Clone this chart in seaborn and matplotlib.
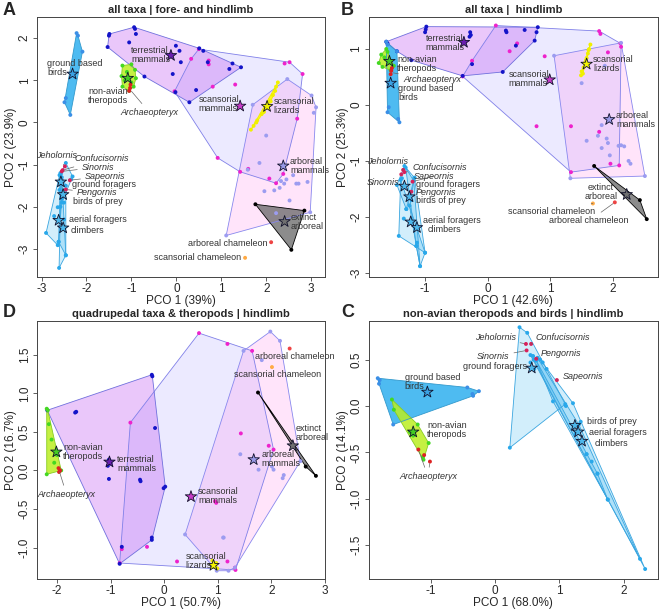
import matplotlib
matplotlib.use("Agg")
import matplotlib.pyplot as plt
import pandas as pd
import seaborn as sns

sns.set_theme(style="ticks")
plt.rcParams["font.family"] = ["Liberation Sans", "DejaVu Sans"]
plt.rcParams["axes.unicode_minus"] = False

# ---------------------------------------------------------------- data
BASAL_BIRDS = ["Jeholornis", "Confucisornis", "Sinornis", "Sapeornis", "Pengornis"]

# panel A: all taxa | fore- and hindlimb
A_POINTS = {
    "scansorial mammals": (
        [-0.04, 0.5, 0.33, 0.72, 0.72, 0.81, 1.31, 2.41, 2.52, 2.81, 2.69, 2.38, 2.22, 2.07, 1.6, 1.42, 0.92],
        [0.74, 1.74, 1.51, 1.47, 1.38, 0.85, 0.9, 1.4, 1.43, 1.15, 0.09, -1.22, -1.44, -1.33, -1.1, -1.17, -0.84],
    ),
    "arboreal mammals": (
        [1.7, 2.47, 3.01, 3.11, 3.06, 2.0, 1.85, 1.59, 2.33, 2.4, 2.45, 2.67, 2.92, 2.18, 1.96, 2.52, 2.22, 2.98, 1.11, 2.3, 2.6, 2.72],
        [0.42, 1.03, 0.64, 0.36, 0.23, -0.31, -0.96, -1.12, -1.39, -1.45, -1.35, -1.45, -1.41, -1.61, -1.63, -1.85, -2.15, -2.13, -2.68, -1.55, -1.25, -1.45],
    ),
    "terrestrial mammals": (
        [-1.49, -1.5, -1.53, -0.94, -0.92, -0.9, -1.05, -0.71, -0.01, 0.07, 0.1, -0.08, 0.51, 0.6, 0.7, 1.18, 1.25, 1.44, 0.29, 0.44, -0.02],
        [2.1, 2.06, 1.79, 2.26, 2.22, 2.1, 1.9, 1.09, 1.82, 1.7, 1.43, 1.15, 1.76, 1.7, 1.43, 1.27, 1.4, 1.31, 0.48, 0.77, 0.72],
    ),
    "ground based birds": ([-2.22, -2.19, -2.09, -2.49, -2.46, -2.36], [2.12, 2.06, 1.68, 0.48, 0.58, 0.18]),
    "ground foragers": ([-2.46, -2.57, -2.31, -2.34, -2.6, -2.55], [-0.96, -1.22, -1.28, -1.35, -1.6, -1.9]),
    "birds of prey": ([-2.58, -2.46, -2.5, -2.62, -2.46], [-1.2, -1.5, -1.9, -2.83, -3.15]),
    "aerial foragers": ([-2.64, -2.72, -2.9, -2.62, -2.64, -2.55, -2.6], [-2.01, -2.22, -2.62, -2.83, -2.91, -1.8, -1.25]),
    "climbers": ([-2.55, -2.61, -2.46, -2.5, -2.58], [-1.3, -3.45, -3.15, -2.3, -2.0]),
    "non-avian theropods": (
        [-1.2, -1.0, -0.92, -0.9, -0.95, -1.05, -1.2, -1.22, -1.1, -1.0, -1.15],
        [1.35, 1.38, 1.25, 1.05, 0.85, 0.75, 0.85, 1.1, 1.2, 0.95, 1.0],
    ),
    "Archaeopteryx": ([-1.03, -1.05, -1.02], [0.82, 0.75, 0.9]),
    "scansorial lizards": (
        [2.26, 2.22, 2.15, 2.08, 2.0, 1.9, 1.8, 1.72, 1.66, 1.78, 1.95, 2.1, 2.2],
        [0.95, 0.85, 0.65, 0.5, 0.35, 0.2, 0.05, -0.08, -0.17, 0.0, 0.25, 0.5, 0.75],
    ),
    "extinct arboreal": ([1.76, 2.85, 2.56], [-1.94, -2.09, -3.02]),
    "basal birds": ([-2.48, -2.53, -2.55, -2.37, -2.46], [-1.04, -1.13, -1.16, -1.37, -1.59]),
    "arboreal chameleon": ([2.11], [-2.84]),
    "scansorial chameleon": ([1.53], [-3.21]),
}
A_STARS = {
    "ground based birds": (-2.31, 1.15), "non-avian theropods": (-1.08, 1.05),
    "terrestrial mammals": (-0.12, 1.59), "scansorial mammals": (1.42, 0.39),
    "scansorial lizards": (2.02, 0.38), "arboreal mammals": (2.38, -1.03),
    "extinct arboreal": (2.41, -2.35), "ground foragers": (-2.57, -1.41),
    "birds of prey": (-2.52, -1.71), "aerial foragers": (-2.62, -2.32), "climbers": (-2.52, -2.5),
}

# panel B: all taxa | hindlimb
B_POINTS = {
    "scansorial mammals": (
        [0.13, 0.47, 0.35, -0.25, -0.4, 0.91, 1.78, 1.8, 2.12, 2.13, 1.92, 0.78, 1.33, 1.78, 1.33, 1.96, 2.1],
        [1.42, 1.1, 0.96, 0.79, 0.51, 0.87, 1.32, 1.27, 1.1, 1.04, 0.94, -0.38, -0.38, -0.48, -1.2, -1.05, -1.08],
    ),
    "arboreal mammals": (
        [1.06, 1.5, 1.87, 1.82, 1.76, 1.58, 1.82, 1.9, 1.92, 2.09, 2.13, 2.18, 2.25, 2.28, 2.51, 1.32, 2.13, 1.95],
        [0.88, 0.39, 0.7, -0.36, -0.55, -0.64, -0.77, -0.6, -0.68, -0.73, -0.72, -0.74, -1.0, -1.05, -1.27, -1.31, 1.11, -0.9],
    ),
    "terrestrial mammals": (
        [-1.62, -1.6, -0.98, -0.99, -1.0, -0.28, -0.27, -0.29, 0.29, 0.3, 0.45, 0.59, 0.8, 0.78, 0.75, 0.24, -0.25, -1.22, -1.45, -0.4],
        [1.13, 1.1, 1.4, 1.35, 1.3, 1.3, 1.25, 1.22, 1.33, 1.3, 1.06, 1.34, 1.39, 1.3, 1.15, 0.59, 0.73, 0.8, 0.96, 0.52],
    ),
    "ground based birds": ([-1.62, -1.6, -1.45, -1.58, -1.6, -1.41, -1.43], [1.13, 1.08, 0.96, -0.04, -0.13, -0.31, -0.25]),
    "ground foragers": ([-1.33, -1.37, -1.45, -1.17, -1.3, -1.25], [-1.09, -1.31, -1.43, -1.3, -1.86, -1.6]),
    "birds of prey": ([-1.31, -1.18, -1.22, -1.08, -1.14], [-1.12, -1.36, -1.7, -2.88, -2.52]),
    "aerial foragers": ([-1.34, -1.42, -1.13, -1.0, -1.3, -1.39], [-2.03, -2.34, -2.46, -2.64, -1.86, -1.34]),
    "climbers": ([-1.17, -1.14, -1.0, -1.08, -1.25], [-1.3, -2.52, -2.64, -2.88, -1.8]),
    "non-avian theropods": (
        [-1.74, -1.62, -1.6, -1.5, -1.55, -1.68, -1.65, -1.7],
        [0.75, 1.0, 0.95, 0.7, 0.62, 0.68, 0.85, 0.9],
    ),
    "Archaeopteryx": ([-1.54, -1.55, -1.53], [0.61, 0.55, 0.66]),
    "scansorial lizards": (
        [1.64, 1.62, 1.6, 1.58, 1.55, 1.53, 1.5, 1.49, 1.52, 1.57, 1.61],
        [1.08, 1.0, 0.92, 0.84, 0.75, 0.67, 0.6, 0.53, 0.56, 0.8, 0.98],
    ),
    "extinct arboreal": ([1.7, 2.43, 2.54], [-1.09, -1.7, -2.04]),
    "basal birds": ([-1.35, -1.33, -1.38, -1.2, -1.22], [-1.16, -1.2, -1.24, -1.37, -1.55]),
    "arboreal chameleon": ([2.03], [-1.74]),
    "scansorial chameleon": ([1.68], [-1.76]),
}
B_STARS = {
    "ground based birds": (-1.55, 0.39), "non-avian theropods": (-1.57, 0.78),
    "terrestrial mammals": (-0.38, 1.12), "scansorial mammals": (0.99, 0.45),
    "scansorial lizards": (1.58, 0.73), "arboreal mammals": (1.94, -0.26),
    "extinct arboreal": (2.22, -1.6), "ground foragers": (-1.33, -1.45),
    "birds of prey": (-1.25, -1.64), "aerial foragers": (-1.23, -2.09), "climbers": (-1.13, -2.19),
}

# panel D: quadrupedal taxa & theropods | hindlimb
D_POINTS = {
    "scansorial mammals": (
        [0.65, 1.18, 1.64, -0.63, 1.43, 1.95, 2.04, 0.95, 0.97, -0.32, -0.79, -0.83, 0.24, 1.18, 1.32, 1.33],
        [1.78, 1.64, 1.55, 0.62, 0.48, 0.32, 0.27, -0.4, -0.42, -0.99, -1.02, -1.2, -1.18, -1.18, -1.26, -1.29],
    ),
    "arboreal mammals": (
        [1.98, 2.16, 1.48, 1.82, 1.42, 0.39, 1.1, 0.98, 1.2, 1.76, 2.04, 2.21, 2.23, 2.01, 2.54, 1.32, 1.11],
        [1.8, 1.68, 1.55, 1.43, 0.21, -0.83, -0.87, -1.3, -1.3, 0.01, 0.01, -0.1, -0.06, 0.05, 0.12, -1.26, -0.87],
    ),
    "terrestrial mammals": (
        [-2.18, -1.66, -1.64, -0.23, -0.22, -0.17, -1.01, -1.0, -1.03, -0.45, -0.44, -0.01, 0.02, -0.23, -0.23, -0.79, -0.83, -1.03, -1.05],
        [0.78, 0.75, 0.76, 1.24, 1.22, 0.55, 0.12, 0.09, -0.11, -0.12, -0.14, -0.23, -0.21, -0.87, -0.9, -0.99, -1.21, 0.14, 0.06],
    ),
    "non-avian theropods": (
        [-2.19, -2.17, -2.19, -2.0, -2.05, -1.92, -2.1, -2.15],
        [0.8, 0.78, -0.05, 0.2, 0.1, 0.0, 0.4, 0.6],
    ),
    "Archaeopteryx": ([-1.97, -1.94, -1.96], [0.03, 0.0, -0.02]),
    "scansorial lizards": ([0.9, 0.95, 0.99, 0.93, 0.97], [-1.17, -1.22, -1.27, -1.25, -1.2]),
    "extinct arboreal": ([1.75, 2.64, 2.83], [1.01, 0.05, -0.07]),
    "arboreal chameleon": ([2.34], [1.58]),
    "scansorial chameleon": ([2.01], [1.34]),
}
D_STARS = {
    "non-avian theropods": (-2.01, 0.24), "terrestrial mammals": (-1.02, 0.11),
    "scansorial mammals": (0.5, -0.34), "scansorial lizards": (0.92, -1.23),
    "arboreal mammals": (1.67, 0.14), "extinct arboreal": (2.4, 0.32),
}

# panel C: non-avian theropods and birds | hindlimb
C_POINTS = {
    "ground based birds": ([-1.82, -1.79, -1.8, -0.43, -0.25, -0.34, -1.58, -0.35], [0.3, 0.28, 0.24, 0.2, 0.16, 0.11, -0.2, 0.13]),
    "ground foragers": ([0.38, 0.5, 0.59, 0.74, 0.8, 1.09, 0.23, 0.55, 0.61], [0.85, 0.79, 0.54, 0.47, 0.4, 0.02, -0.45, 0.47, 0.4]),
    "birds of prey": ([0.55, 0.7, 1.21, 1.33, 1.42, 2.33, 1.5], [0.55, 0.5, 0.03, -0.17, -0.52, -1.76, -0.6]),
    "aerial foragers": ([0.6, 0.66, 1.1, 1.3, 1.59, 1.75, 2.25], [0.5, 0.52, 0.0, -0.2, -0.73, -1.01, -1.65]),
    "climbers": ([0.64, 0.9, 1.25, 1.42, 1.59, 1.75], [0.49, 0.05, -0.3, -0.52, -0.73, -1.01]),
    "non-avian theropods": (
        [-1.6, -1.57, -1.32, -1.27, -1.03, -1.12, -1.11, -1.2],
        [0.07, -0.04, -0.28, -0.32, -0.4, -0.55, -0.58, -0.2],
    ),
    "Archaeopteryx": ([-1.19, -1.1, -1.01], [-0.47, -0.53, -0.6]),
    "basal birds": ([0.48, 0.56, 0.49, 0.96, 0.64], [0.67, 0.67, 0.6, 0.28, 0.51]),
}
C_STARS = {
    "ground based birds": (-1.05, 0.15), "non-avian theropods": (-1.27, -0.28),
    "ground foragers": (0.57, 0.41), "birds of prey": (1.24, -0.21),
    "aerial foragers": (1.29, -0.28), "climbers": (1.35, -0.38),
}

# ---------------------------------------------------------------- text placement
A_LABELS = [
    ("ground based\nbirds", -2.87, 1.29, "left"), ("non-avian\ntheropods", -1.96, 0.64, "left"),
    ("terrestrial\nmammals", -1.01, 1.59, "left"), ("scansorial\nmammals", 0.5, 0.44, "left"),
    ("scansorial\nlizards", 2.16, 0.38, "left"), ("arboreal\nmammals", 2.53, -1.03, "left"),
    ("extinct\narboreal", 2.55, -2.36, "left"), ("ground foragers", -2.32, -1.48, "left"),
    ("birds of prey", -2.3, -1.87, "left"), ("aerial foragers", -2.4, -2.3, "left"),
    ("climbers", -2.35, -2.56, "left"), ("arboreal chameleon", 2.03, -2.87, "right"),
    ("scansorial chameleon", 1.44, -3.21, "right"),
]
A_BASAL_TEXT = [(-2.66, -0.78), (-1.65, -0.86), (-1.74, -1.06), (-1.58, -1.27), (-1.76, -1.67)]
A_CALLOUTS = [("Archaeopteryx", -0.6, 0.24, [(-1.03, 0.78)], True)]

B_LABELS = [
    ("terrestrial\nmammals", -0.99, 1.1, "left"), ("non-avian\ntheropods", -1.45, 0.73, "left"),
    ("ground based\nbirds", -1.43, 0.21, "left"), ("scansorial\nmammals", 0.33, 0.46, "left"),
    ("scansorial\nlizards", 1.68, 0.73, "left"), ("arboreal\nmammals", 2.05, -0.27, "left"),
    ("extinct\narboreal", 1.81, -1.56, "center"), ("ground foragers", -1.15, -1.42, "left"),
    ("birds of prey", -1.15, -1.7, "left"), ("aerial foragers", -1.04, -2.07, "left"),
    ("climbers", -0.96, -2.23, "left"),
]
B_BASAL_TEXT = [(-1.6, -1.01), (-0.77, -1.12), (-1.68, -1.39), (-0.85, -1.27), (-0.82, -1.56)]
B_CALLOUTS = [
    ("Archaeopteryx", -0.89, 0.45, [(-1.54, 0.58)], True),
    ("scansorial chameleon", 1.02, -1.91, [(1.68, -1.76)], False),
    ("arboreal chameleon", 1.62, -2.07, [(2.03, -1.74)], False),
]

D_LABELS = [
    ("non-avian\ntheropods", -1.88, 0.24, "left"), ("terrestrial\nmammals", -0.88, 0.09, "left"),
    ("scansorial\nmammals", 0.63, -0.33, "left"), ("scansorial\nlizards", 0.4, -1.18, "left"),
    ("arboreal\nmammals", 1.81, 0.15, "left"), ("extinct\narboreal", 2.46, 0.48, "left"),
    ("arboreal chameleon", 1.7, 1.48, "left"), ("scansorial chameleon", 1.31, 1.24, "left"),
]
D_CALLOUTS = [("Archaeopteryx", -1.82, -0.31, [(-1.96, 0.0)], True)]

C_LABELS = [
    ("ground based\nbirds", -1.4, 0.26, "left"), ("non-avian\ntheropods", -1.05, -0.26, "left"),
    ("ground foragers", 0.49, 0.43, "right"), ("birds of prey", 1.42, -0.17, "left"),
    ("aerial foragers", 1.46, -0.29, "left"), ("climbers", 1.55, -0.41, "left"),
]
C_BASAL_TEXT = [(0.0, 0.74), (1.05, 0.74), (-0.03, 0.53), (1.36, 0.32), (1.03, 0.57)]
C_CALLOUTS = [("Archaeopteryx", -1.04, -0.76, [(-1.19, -0.47), (-1.01, -0.6)], True)]

# ---------------------------------------------------------------- styles
POINT_COLORS = {
    "terrestrial mammals": "#1414c8", "scansorial mammals": "#ee22cc", "arboreal mammals": "#9c9cf0",
    "ground based birds": "#3b8fe6", "ground foragers": "#29a8ea", "birds of prey": "#29a8ea",
    "aerial foragers": "#29a8ea", "climbers": "#29a8ea", "non-avian theropods": "#44d822",
    "Archaeopteryx": "#dd2222", "scansorial lizards": "#f0f000", "extinct arboreal": "#000000",
    "basal birds": "#d8205a", "arboreal chameleon": "#ee4444", "scansorial chameleon": "#ffaa44",
}
STAR_COLORS = {
    "terrestrial mammals": "#6a1fb0", "scansorial mammals": "#c83cc8", "arboreal mammals": "#9a9ae8",
    "ground based birds": "#3aa2e4", "ground foragers": "#4db8ec", "birds of prey": "#4db8ec",
    "aerial foragers": "#4db8ec", "climbers": "#4db8ec", "non-avian theropods": "#44cc22",
    "scansorial lizards": "#f4f400", "extinct arboreal": "#707070",
}
# fill colour, alpha, edge colour -- drawing order back to front
HULLS = [
    ("scansorial mammals", "#6a5aff", 0.12, "#8080e8"),
    ("arboreal mammals", "#ff78e6", 0.2, "#8888ee"),
    ("terrestrial mammals", "#b432ee", 0.27, "#7070dd"),
    ("ground based birds", "#22aaee", 0.8, "#3399cc"),
    ("ground foragers", "#22aaee", 0.2, "#3aa6e0"),
    ("birds of prey", "#22aaee", 0.2, "#3aa6e0"),
    ("aerial foragers", "#22aaee", 0.2, "#3aa6e0"),
    ("climbers", "#22aaee", 0.2, "#3aa6e0"),
    ("non-avian theropods", "#bbee22", 0.85, "#88cc22"),
    ("scansorial lizards", "#ffff00", 0.9, "#eeee00"),
    ("extinct arboreal", "#666666", 0.75, "#000000"),
]
LABEL_SIZE = 6.5
LINE_COLOR = "#666666"


def convex_hull(xs, ys):
    pts = sorted(set(zip(xs, ys)))
    if len(pts) < 3:
        return pts

    def cross(o, a, b):
        return (a[0] - o[0]) * (b[1] - o[1]) - (a[1] - o[1]) * (b[0] - o[0])

    lower, upper = [], []
    for p in pts:
        while len(lower) >= 2 and cross(lower[-2], lower[-1], p) <= 0:
            lower.pop()
        lower.append(p)
    for p in reversed(pts):
        while len(upper) >= 2 and cross(upper[-2], upper[-1], p) <= 0:
            upper.pop()
        upper.append(p)
    return lower[:-1] + upper[:-1]


def leader(ax, text, tx, ty, targets, italic, ha="center"):
    for i, (px, py) in enumerate(targets):
        ax.annotate(
            text, xy=(px, py), xytext=(tx, ty), ha=ha, va="center",
            fontsize=LABEL_SIZE, fontstyle="italic" if italic else "normal",
            color="#333333" if i == 0 else "none", zorder=7,
            arrowprops=dict(arrowstyle="-", color=LINE_COLOR, lw=0.5, shrinkA=1, shrinkB=1.5),
        )


def draw_panel(ax, points, stars, labels, basal_text, callouts, xlim, ylim, xticks, yticks,
               ytick_fmt, title, xlabel, ylabel):
    # hulls
    for group, fill, alpha, edge in HULLS:
        if group not in points:
            continue
        verts = convex_hull(*points[group])
        ax.fill([v[0] for v in verts], [v[1] for v in verts], facecolor=fill, alpha=alpha,
                edgecolor="none", zorder=2)
        ax.fill([v[0] for v in verts], [v[1] for v in verts], facecolor="none",
                edgecolor=edge, lw=0.6, zorder=2.5)

    # points
    rows = []
    for group, (xs, ys) in points.items():
        rows += [{"x": x, "y": y, "group": group} for x, y in zip(xs, ys)]
    df = pd.DataFrame(rows)
    sns.scatterplot(data=df, x="x", y="y", hue="group", palette=POINT_COLORS, s=8,
                    linewidth=0, legend=False, ax=ax, zorder=4)

    # group centroids
    star_df = pd.DataFrame([{"x": x, "y": y, "group": g} for g, (x, y) in stars.items()])
    sns.scatterplot(data=star_df, x="x", y="y", hue="group", palette=STAR_COLORS, marker="*",
                    s=75, edgecolor="#10102a", linewidth=0.6, legend=False, ax=ax, zorder=6)

    for text, x, y, ha in labels:
        ax.text(x, y, text, ha=ha, va="center", fontsize=LABEL_SIZE, color="#333333",
                linespacing=1.0, zorder=7)

    if basal_text:
        bx, by = points["basal birds"]
        for name, (tx, ty), px, py in zip(BASAL_BIRDS, basal_text, bx, by):
            leader(ax, name, tx, ty, [(px, py)], True)
    for text, tx, ty, targets, italic in callouts:
        leader(ax, text, tx, ty, targets, italic)

    ax.set_xlim(*xlim)
    ax.set_ylim(*ylim)
    ax.set_xticks(xticks)
    ax.set_yticks(yticks)
    ax.set_xticklabels([f"{v:g}" for v in xticks])
    ax.set_yticklabels([ytick_fmt.format(v) for v in yticks], rotation=90, va="center")
    ax.tick_params(direction="out", length=3, width=0.6, labelsize=8.5, pad=1.5, color="#444444")
    for sp in ax.spines.values():
        sp.set_color("#444444")
        sp.set_linewidth(0.7)
    ax.set_title(title, fontsize=8, fontweight="bold", pad=3)
    ax.set_xlabel(xlabel, fontsize=8.5, labelpad=0)
    ax.set_ylabel(ylabel, fontsize=8.5, labelpad=1)


fig = plt.figure(figsize=(6.62, 6.11), dpi=100)
ax_a = fig.add_axes([0.056, 0.547, 0.435, 0.425])
ax_b = fig.add_axes([0.557, 0.547, 0.437, 0.425])
ax_d = fig.add_axes([0.056, 0.052, 0.435, 0.423])
ax_c = fig.add_axes([0.557, 0.052, 0.437, 0.423])

draw_panel(ax_a, A_POINTS, A_STARS, A_LABELS, A_BASAL_TEXT, A_CALLOUTS,
           (-3.1, 3.31), (-3.66, 2.5), [-3, -2, -1, 0, 1, 2, 3], [-3, -2, -1, 0, 1, 2], "{:g}",
           "all taxa | fore- and hindlimb", "PCO 1 (39%)", "PCO 2 (23.9%)")
draw_panel(ax_b, B_POINTS, B_STARS, B_LABELS, B_BASAL_TEXT, B_CALLOUTS,
           (-1.9, 2.72), (-3.07, 1.57), [-1, 0, 1, 2], [-3, -2, -1, 0, 1], "{:g}",
           "all taxa |  hindlimb", "PCO 1 (42.6%)", "PCO 2 (25.3%)")
draw_panel(ax_d, D_POINTS, D_STARS, D_LABELS, None, D_CALLOUTS,
           (-2.37, 3.0), (-1.41, 1.94), [-2, -1, 0, 1, 2, 3], [-1.0, -0.5, 0.0, 0.5, 1.0, 1.5], "{:.1f}",
           "quadrupedal taxa & theropods | hindlimb", "PCO 1 (50.7%)", "PCO 2 (16.7%)")
draw_panel(ax_c, C_POINTS, C_STARS, C_LABELS, C_BASAL_TEXT, C_CALLOUTS,
           (-1.96, 2.53), (-1.87, 0.92), [-1, 0, 1, 2], [-1.5, -1.0, -0.5, 0.0, 0.5], "{:.1f}",
           "non-avian theropods and birds | hindlimb", "PCO 1 (68.0%)", "PCO 2 (14.1%)")

for letter, x, y in [("A", 3, 15), ("B", 341, 15), ("D", 3, 317), ("C", 341, 317)]:
    fig.text(x / 662, 1 - y / 611, letter, fontsize=13, fontweight="bold", va="baseline", ha="left")

fig.savefig("out.png", dpi=100)
